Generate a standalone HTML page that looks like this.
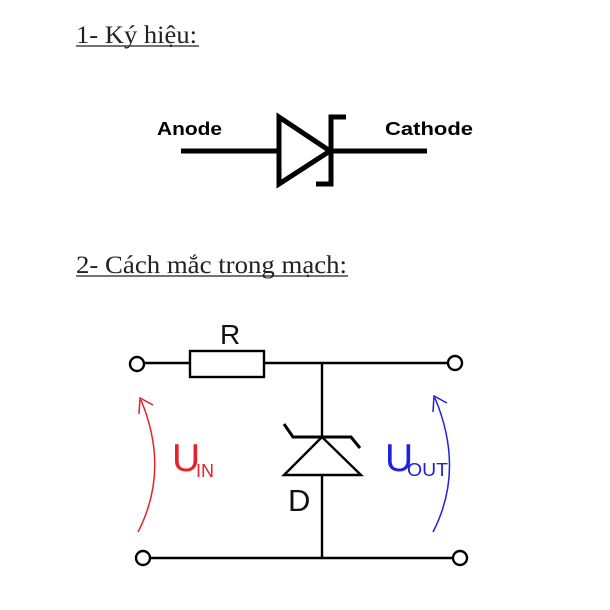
<!DOCTYPE html>
<html><head><meta charset="utf-8"><style>
html,body{margin:0;padding:0;background:#fff;width:610px;height:610px;overflow:hidden}
svg{display:block}
</style></head><body>
<svg width="610" height="610" viewBox="0 0 610 610" xmlns="http://www.w3.org/2000/svg">
<g font-family="Liberation Serif, serif" font-size="25" fill="#222">
<text x="76" y="43" textLength="121" lengthAdjust="spacingAndGlyphs">1- Ký hiệu:</text>
<line x1="76" y1="46" x2="199" y2="46" stroke="#222" stroke-width="1.3"/>
<text x="76" y="273" textLength="271" lengthAdjust="spacingAndGlyphs">2- Cách mắc trong mạch:</text>
<line x1="76" y1="276" x2="348" y2="276" stroke="#222" stroke-width="1.3"/>
</g>
<g font-family="Liberation Sans, DejaVu Sans, sans-serif" font-weight="bold" font-size="18" fill="#000">
<text x="157" y="135" textLength="65" lengthAdjust="spacingAndGlyphs">Anode</text>
<text x="385" y="135" textLength="88" lengthAdjust="spacingAndGlyphs">Cathode</text>
</g>
<g stroke="#000" stroke-width="5" fill="none">
<line x1="181" y1="151" x2="277" y2="151"/>
<polygon points="279,117 279,184 330,151" stroke-linejoin="miter"/>
<line x1="330" y1="151" x2="427" y2="151"/>
<polyline points="346,117 331,117 331,184 316,184"/>
</g>
<g stroke="#000" stroke-width="2.4" fill="none">
<line x1="144" y1="363" x2="190" y2="363"/>
<rect x="190" y="351" width="74" height="26"/>
<line x1="264" y1="363" x2="448" y2="363"/>
<line x1="322" y1="363" x2="322" y2="558"/>
<line x1="150" y1="558" x2="453" y2="558"/>
<circle cx="137" cy="364" r="7" fill="#fff"/>
<circle cx="455" cy="363" r="7" fill="#fff"/>
<circle cx="143" cy="558" r="7" fill="#fff"/>
<circle cx="460" cy="558" r="7" fill="#fff"/>
<polygon points="322,437 284,475 361,475" fill="#fff"/>
<polyline points="284,424 293,437 351,437 360,448" stroke-width="3"/>
</g>
<g font-family="Liberation Sans, sans-serif" font-size="28" fill="#111">
<text x="220" y="344">R</text>
<text x="288" y="511" font-size="31">D</text>
</g>
<g font-family="Liberation Sans, sans-serif" fill="#e8202a">
<text x="172" y="471" font-size="39">U</text>
<text x="196" y="477" font-size="18">IN</text>
</g>
<g font-family="Liberation Sans, sans-serif" fill="#2020e0">
<text x="385" y="471" font-size="39">U</text>
<text x="407" y="476" font-size="18" textLength="41" lengthAdjust="spacingAndGlyphs">OUT</text>
</g>
<path d="M138,532 Q170,470 141,400" stroke="#e8202a" stroke-width="1.5" fill="none"/>
<path d="M139,414 L140,398 L153,405" stroke="#e8202a" stroke-width="1.5" fill="none"/>
<path d="M433,532 Q465,470 435,398" stroke="#2020e0" stroke-width="1.5" fill="none"/>
<path d="M433,412 L434,396 L447,403" stroke="#2020e0" stroke-width="1.5" fill="none"/>
</svg>
</body></html>
